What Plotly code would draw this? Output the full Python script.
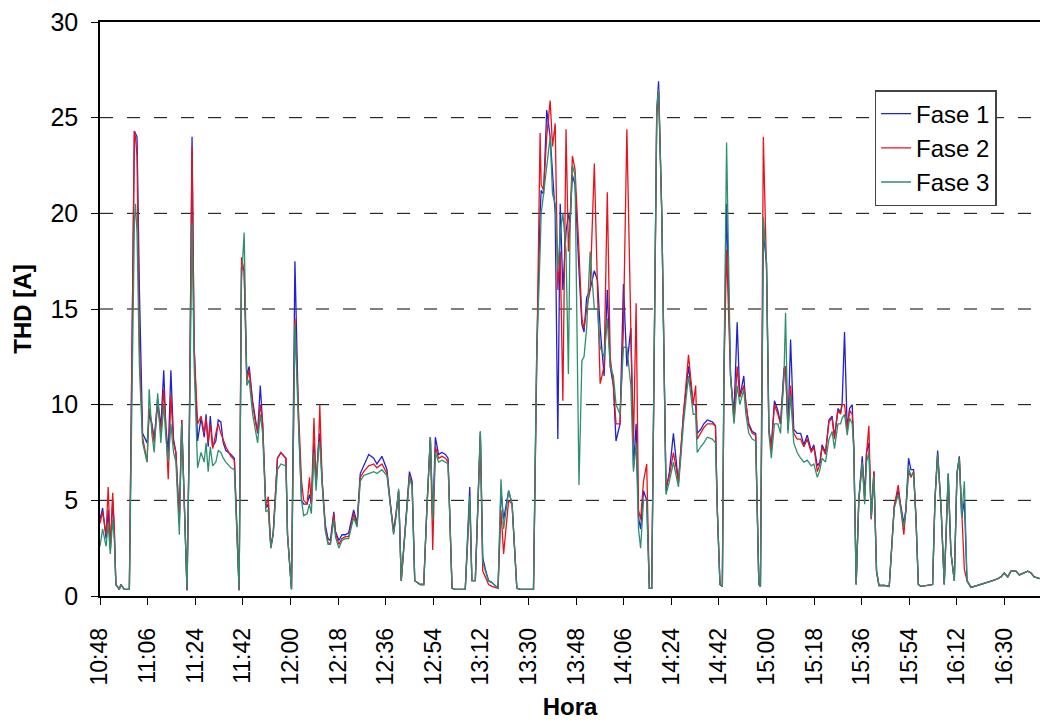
import plotly.graph_objects as go

# minutes after 10:48
minutos = [0.0, 1.0, 2.3, 3.1, 3.9, 4.8, 5.4, 6.0, 7.3, 7.9, 9.2, 11.1, 13.0, 13.4, 14.0, 14.9, 16.1, 17.8, 18.6, 19.6,
           20.5, 21.8, 23.0, 24.1, 24.9, 25.8, 26.8, 27.8, 28.7, 29.6, 30.0, 30.9, 31.9, 32.9, 33.8, 34.8, 35.6, 36.6, 36.9, 38.2,
           39.4, 40.1, 40.9, 41.7, 42.6, 43.8, 44.7, 45.7, 46.6, 47.6, 49.5, 50.8, 52.6, 53.5, 54.5, 55.5, 56.4, 57.7, 58.9, 59.6,
           60.6, 61.5, 62.7, 63.6, 64.6, 65.5, 67.1, 68.4, 70.3, 70.9, 72.4, 73.7, 75.1, 76.2, 77.0, 78.3, 79.2, 79.9, 80.9, 81.7,
           82.7, 83.1, 84.0, 85.2, 86.2, 87.1, 88.4, 89.0, 90.3, 91.5, 92.8, 94.0, 95.9, 97.2, 98.4, 99.7, 101.6, 103.5, 104.7, 106.6,
           108.5, 109.8, 111.0, 111.9, 112.9, 113.9, 115.4, 117.0, 118.0, 119.0, 121.1, 122.4, 123.6, 124.9, 125.8, 126.8, 128.0, 129.3, 130.6, 131.6,
           133.1, 134.3, 138.1, 139.8, 140.6, 141.9, 143.8, 144.7, 145.7, 146.9, 148.2, 150.5, 151.6, 152.6, 154.5, 155.8, 157.6, 158.9, 163.9, 165.1,
           166.4, 166.8, 167.7, 168.9, 170.2, 171.1, 172.1, 173.1, 174.0, 175.0, 176.2, 177.1, 177.7, 178.6, 179.6, 181.1, 182.2, 183.0, 184.0, 185.3,
           186.9, 188.1, 189.1, 190.6, 191.8, 192.9, 194.1, 195.1, 196.6, 197.9, 199.2, 200.7, 201.7, 202.7, 203.6, 204.4, 205.5, 206.7, 207.7, 208.6,
           210.5, 211.2, 212.4, 214.0, 215.3, 216.8, 218.7, 220.6, 222.5, 224.3, 225.2, 225.8, 227.1, 228.3, 229.6, 231.5, 232.7, 233.4, 234.4, 235.3,
           235.9, 236.9, 238.4, 239.7, 240.9, 241.9, 243.4, 244.2, 245.3, 246.6, 247.9, 249.1, 249.7, 250.8, 252.0, 252.9, 253.8, 255.0, 256.3, 257.3,
           258.6, 259.2, 260.1, 261.1, 262.3, 263.6, 264.9, 266.1, 267.4, 268.9, 269.9, 271.2, 272.2, 273.0, 274.3, 275.6, 276.8, 277.7, 279.0, 280.0,
           280.6, 281.5, 282.5, 283.4, 284.4, 285.0, 285.9, 286.9, 288.2, 289.1, 289.8, 290.7, 291.6, 292.6, 293.6, 294.5, 296.6, 298.4, 300.3, 301.8,
           302.9, 303.9, 304.7, 305.7, 306.6, 307.6, 308.5, 309.4, 310.4, 312.9, 314.8, 315.7, 316.7, 318.0, 319.2, 320.7, 321.7, 323.0, 324.0, 324.9,
           325.8, 326.8, 327.8, 329.3, 331.8, 334.3, 336.2, 337.5, 339.4, 340.6, 341.9, 343.2, 344.4, 346.3, 347.6, 349.5, 350.8, 352.0, 353.2, 355.7]

fase1 = [4.0, 4.6, 3.0, 4.5, 2.4, 5.0, 3.5, 0.6, 0.35, 0.6, 0.35, 0.35, 24.3, 24.2, 24.0, 16.0, 8.5, 8.0, 9.5, 9.0,
         8.2, 10.3, 8.8, 11.8, 8.8, 7.5, 11.8, 8.2, 7.5, 5.0, 4.0, 9.2, 4.5, 0.3, 9.0, 24.0, 13.0, 9.0, 8.1, 9.3,
         8.3, 9.5, 7.8, 9.4, 7.8, 8.1, 9.2, 9.1, 8.0, 7.6, 7.4, 7.2, 0.3, 17.2, 17.0, 11.5, 12.0, 10.2, 9.2, 8.5,
         11.0, 9.0, 4.6, 4.8, 2.6, 3.3, 7.2, 7.5, 7.2, 3.2, 0.35, 17.5, 9.0, 5.0, 4.8, 4.8, 5.3, 4.8, 8.0, 5.8,
         8.1, 8.5, 6.0, 3.7, 3.0, 2.9, 4.4, 3.4, 2.9, 3.2, 3.2, 3.3, 4.5, 3.8, 6.4, 6.8, 7.4, 7.2, 6.9, 7.3,
         6.6, 4.8, 3.4, 4.3, 5.5, 0.8, 3.7, 6.5, 6.0, 0.8, 0.6, 0.6, 4.6, 8.3, 4.0, 8.3, 7.4, 7.5, 7.4, 7.2,
         0.4, 0.35, 0.35, 5.7, 0.8, 0.8, 8.6, 2.0, 1.4, 0.8, 0.7, 0.4, 5.5, 4.0, 5.5, 4.8, 0.4, 0.35, 0.35, 12.5,
         20.0, 21.2, 21.0, 25.4, 24.0, 22.0, 20.0, 8.2, 20.5, 16.0, 19.0, 20.0, 19.5, 22.0, 21.5, 17.0, 14.2, 13.8, 15.6, 16.0,
         17.0, 16.5, 14.0, 11.5, 16.0, 12.0, 11.0, 8.1, 9.0, 16.3, 12.0, 14.0, 6.7, 9.0, 4.1, 3.5, 5.5, 5.0, 0.4, 0.4,
         25.4, 26.9, 20.0, 5.5, 6.5, 8.5, 5.9, 9.5, 12.0, 10.0, 10.0, 8.5, 8.7, 9.0, 9.2, 9.1, 8.9, 4.5, 0.6, 0.5,
         11.5, 20.5, 11.5, 9.5, 14.3, 10.4, 11.5, 10.0, 9.0, 8.6, 8.5, 0.6, 0.5, 19.0, 17.4, 8.7, 7.8, 10.2, 9.7, 9.0,
         11.9, 12.0, 8.7, 13.4, 8.7, 8.5, 8.5, 7.9, 8.4, 7.6, 7.9, 6.8, 7.0, 7.9, 7.5, 9.2, 9.4, 8.3, 9.8, 9.6,
         10.1, 13.8, 8.7, 9.8, 10.0, 7.8, 0.6, 5.1, 7.3, 5.2, 7.5, 8.0, 4.1, 6.5, 1.3, 0.55, 0.55, 0.5, 4.7, 5.5,
         4.5, 3.8, 4.5, 7.2, 6.6, 6.6, 4.1, 0.6, 0.5, 0.55, 0.6, 5.1, 7.6, 4.6, 0.6, 6.4, 2.3, 0.8, 6.4, 7.3,
         4.1, 5.0, 0.8, 0.45, 0.55, 0.65, 0.75, 0.8, 0.9, 1.0, 1.2, 1.0, 1.3, 1.3, 1.1, 1.2, 1.3, 1.2, 1.0, 0.9]

fase2 = [3.8, 4.4, 3.2, 5.7, 2.5, 5.4, 3.5, 0.6, 0.35, 0.6, 0.35, 0.35, 24.3, 24.0, 23.0, 13.0, 8.3, 7.0, 9.8, 9.0,
         8.0, 10.0, 8.5, 10.8, 8.8, 6.1, 10.5, 8.0, 7.5, 5.0, 3.8, 9.2, 4.5, 0.3, 9.0, 23.5, 13.0, 9.5, 9.0, 9.4,
         8.5, 9.3, 8.0, 9.0, 7.7, 8.5, 9.0, 8.5, 8.2, 7.8, 7.3, 7.1, 0.3, 17.7, 17.0, 11.2, 11.8, 10.0, 9.0, 8.6,
         10.0, 9.0, 4.6, 5.2, 2.5, 3.3, 7.2, 7.5, 7.2, 3.2, 0.35, 14.5, 9.5, 6.0, 5.0, 4.8, 6.2, 4.8, 9.3, 5.8,
         8.1, 10.0, 6.0, 3.5, 2.8, 2.7, 4.3, 3.3, 2.7, 3.0, 3.1, 3.1, 4.3, 3.7, 6.2, 6.5, 6.8, 6.9, 6.7, 6.9,
         6.4, 4.6, 3.3, 4.2, 5.5, 0.8, 3.5, 6.3, 5.8, 0.8, 0.6, 0.6, 4.6, 8.3, 2.4, 7.8, 7.2, 7.3, 7.2, 7.0,
         0.4, 0.35, 0.35, 5.0, 0.8, 0.8, 8.4, 1.3, 1.0, 0.6, 0.5, 0.4, 4.5, 2.2, 5.0, 4.8, 0.4, 0.35, 0.35, 12.5,
         24.2, 21.5, 21.2, 24.0, 25.9, 23.5, 24.7, 16.0, 18.0, 10.2, 24.4, 18.0, 19.5, 23.0, 22.3, 18.0, 14.5, 14.0, 15.0, 16.0,
         22.6, 16.0, 11.1, 12.0, 21.1, 12.5, 11.0, 9.0, 9.0, 14.0, 24.4, 14.0, 8.0, 15.3, 4.5, 4.0, 6.0, 6.9, 0.4, 0.4,
         25.0, 26.4, 20.0, 5.7, 6.3, 7.5, 6.0, 9.5, 12.6, 10.0, 11.0, 8.2, 8.5, 8.8, 9.0, 9.0, 8.9, 4.5, 0.6, 0.5,
         11.5, 18.1, 11.5, 9.1, 12.0, 10.4, 11.0, 10.0, 8.9, 8.5, 8.4, 0.6, 0.5, 24.0, 17.0, 8.7, 7.6, 10.0, 9.5, 9.0,
         11.5, 12.0, 8.7, 11.0, 8.5, 8.2, 8.2, 7.8, 8.2, 7.5, 7.8, 6.5, 6.9, 7.8, 7.4, 9.1, 9.3, 8.2, 9.7, 9.5,
         10.0, 10.0, 8.7, 9.7, 9.5, 7.8, 0.6, 5.0, 7.0, 5.0, 7.4, 8.9, 4.0, 6.5, 1.3, 0.55, 0.55, 0.5, 4.7, 5.8,
         4.4, 3.2, 4.5, 6.5, 6.2, 6.5, 4.1, 0.6, 0.5, 0.55, 0.6, 5.1, 7.4, 4.6, 0.6, 6.2, 2.3, 0.8, 6.4, 7.2,
         4.1, 1.4, 0.8, 0.45, 0.55, 0.65, 0.75, 0.8, 0.9, 1.0, 1.2, 1.0, 1.3, 1.3, 1.1, 1.2, 1.3, 1.2, 1.0, 0.9]

fase3 = [2.6, 3.5, 2.6, 3.8, 2.2, 4.0, 3.0, 0.6, 0.35, 0.6, 0.35, 0.35, 19.5, 20.5, 19.0, 12.0, 8.0, 7.0, 10.8, 8.5,
         7.5, 10.6, 8.0, 10.0, 8.3, 7.0, 9.0, 7.5, 7.0, 4.8, 3.2, 9.0, 4.3, 0.3, 8.5, 19.5, 12.0, 8.0, 6.7, 7.5,
         7.0, 8.0, 6.5, 7.8, 6.8, 7.0, 7.6, 7.5, 7.2, 7.0, 6.7, 6.6, 0.3, 16.5, 19.0, 11.0, 11.3, 9.5, 8.6, 8.0,
         9.5, 8.5, 4.4, 4.5, 2.5, 3.2, 6.6, 6.9, 6.8, 3.2, 0.35, 14.2, 8.8, 5.0, 4.2, 4.3, 4.8, 4.3, 7.5, 5.5,
         7.8, 8.0, 5.8, 3.4, 2.7, 2.7, 4.0, 3.1, 2.5, 2.9, 3.0, 3.0, 4.1, 3.6, 6.0, 6.3, 6.4, 6.5, 6.4, 6.6,
         6.3, 4.6, 3.2, 4.1, 5.6, 0.8, 3.4, 6.2, 5.7, 0.8, 0.6, 0.6, 4.6, 8.3, 4.0, 7.5, 7.0, 7.1, 7.0, 6.9,
         0.4, 0.35, 0.35, 5.2, 0.8, 0.8, 8.6, 1.8, 1.3, 0.8, 0.7, 0.4, 6.1, 3.5, 5.5, 4.8, 0.4, 0.35, 0.35, 12.5,
         18.0, 20.0, 21.0, 22.5, 24.0, 21.0, 20.5, 17.0, 19.0, 20.0, 18.0, 11.6, 19.0, 22.5, 22.0, 5.8, 12.3, 12.5, 14.0, 18.0,
         15.0, 15.0, 13.0, 12.5, 14.5, 12.0, 11.5, 10.0, 9.5, 13.0, 13.0, 11.0, 6.5, 8.0, 3.5, 2.5, 5.0, 5.0, 0.4, 0.4,
         25.4, 26.5, 20.0, 5.3, 6.0, 7.0, 5.7, 9.0, 11.5, 9.5, 9.5, 7.5, 7.8, 8.0, 8.3, 8.2, 8.0, 4.5, 0.6, 0.5,
         11.5, 23.7, 11.5, 9.0, 11.0, 10.0, 10.8, 9.5, 8.5, 8.2, 8.1, 0.6, 0.5, 19.8, 17.4, 8.5, 7.2, 9.0, 9.0, 8.5,
         11.5, 14.8, 8.5, 10.5, 8.0, 7.5, 7.2, 7.0, 7.1, 6.8, 6.9, 6.2, 6.6, 7.2, 7.0, 8.2, 8.6, 7.7, 9.0, 9.0,
         9.3, 9.5, 8.4, 9.3, 9.0, 7.6, 0.6, 5.0, 7.0, 4.8, 7.0, 7.5, 4.1, 6.3, 1.3, 0.55, 0.55, 0.5, 4.6, 5.3,
         4.3, 3.6, 4.5, 6.7, 6.3, 6.4, 4.1, 0.6, 0.5, 0.55, 0.6, 5.1, 7.4, 4.6, 0.6, 6.4, 2.3, 0.8, 6.4, 7.2,
         4.1, 6.0, 0.8, 0.45, 0.55, 0.65, 0.75, 0.8, 0.9, 1.0, 1.2, 1.0, 1.3, 1.3, 1.1, 1.2, 1.3, 1.2, 1.0, 0.9]

tick_minutos = [0, 18, 36, 54, 72, 90, 108, 126, 144, 162, 180, 198, 216, 234, 252, 270, 288, 306, 324, 342]
tick_labels = ["10:48", "11:06", "11:24", "11:42", "12:00", "12:18", "12:36", "12:54", "13:12", "13:30",
               "13:48", "14:06", "14:24", "14:42", "15:00", "15:18", "15:36", "15:54", "16:12", "16:30"]
y_grid = [5, 10, 15, 20, 25]

series = [("Fase 1", fase1, "#2121d4"), ("Fase 2", fase2, "#e5141c"), ("Fase 3", fase3, "#2e8f6c")]

FONT = "Liberation Sans, Arial, sans-serif"
fig = go.Figure()
for name, vals, col in series:
    fig.add_trace(go.Scatter(x=minutos, y=vals, mode="lines", name=name,
                             line=dict(color=col, width=1.3)))

for g in y_grid:
    fig.add_shape(type="line", xref="paper", yref="y", x0=0, x1=1, y0=g, y1=g,
                  line=dict(color="black", width=1, dash="13px,14px"), layer="below")

fig.update_layout(
    width=1040, height=724,
    margin=dict(l=100, r=0, t=22, b=128),
    paper_bgcolor="white", plot_bgcolor="white",
    font=dict(family=FONT, color="black"),
    showlegend=True,
    legend=dict(x=0.824, y=0.8815, xanchor="left", yanchor="top",
                bgcolor="white", bordercolor="#444", borderwidth=1.5,
                font=dict(size=24, family=FONT), itemwidth=30,
                tracegroupgap=0),
    xaxis=dict(range=[0, 355.4], tickmode="array", tickvals=tick_minutos, ticktext=tick_labels,
               tickangle=-90, tickfont=dict(size=23), ticks="outside", ticklen=7,
               ticklabelstandoff=14,
               tickcolor="black", showline=True, linecolor="black", linewidth=1.5, mirror=True,
               showgrid=False, zeroline=False,
               title=dict(text="<b>Hora</b>", font=dict(size=24), standoff=14)),
    yaxis=dict(range=[0, 30], tickvals=[0, 5, 10, 15, 20, 25, 30], tickfont=dict(size=25),
               ticks="outside", ticklen=7, tickcolor="black", showline=True, ticklabelstandoff=8,
               linecolor="black", linewidth=1.5, showgrid=False, zeroline=False,
               title=dict(text="<b>THD [A]</b>", font=dict(size=24), standoff=12)),
)

fig.write_html("out.html")
